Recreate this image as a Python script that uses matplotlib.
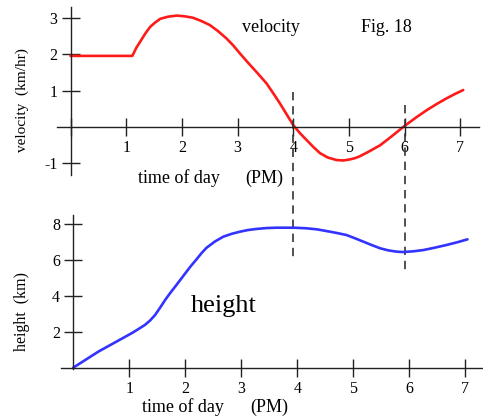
import numpy as np
import matplotlib
matplotlib.use('Agg')
import matplotlib.pyplot as plt

plt.rcParams['font.family'] = ['Liberation Serif', 'DejaVu Serif']

# velocity curve (km/hr)
t_vel = [0.0, 1.11, 1.18, 1.25, 1.34, 1.43, 1.52, 1.61, 1.75, 1.91, 2.05, 2.2, 2.35,
         2.5, 2.65, 2.8, 2.92, 3.04, 3.2, 3.36, 3.52, 3.64, 3.76, 3.88, 4.0, 4.12,
         4.24, 4.36, 4.48, 4.62, 4.78, 4.9, 5.02, 5.12, 5.2, 5.35, 5.56, 5.77, 5.98,
         6.2, 6.4, 6.58, 6.75, 6.9, 7.05]
vel = [1.96, 1.96, 2.18, 2.35, 2.57, 2.76, 2.88, 2.98, 3.04, 3.07, 3.05, 3.01, 2.92,
       2.81, 2.64, 2.44, 2.25, 2.03, 1.75, 1.48, 1.20, 0.93, 0.65, 0.35, 0.05, -0.17,
       -0.36, -0.55, -0.72, -0.84, -0.91, -0.92, -0.89, -0.85, -0.80, -0.68, -0.50,
       -0.25, 0.01, 0.26, 0.47, 0.64, 0.79, 0.91, 1.02]

# height curve (km)
t_h = [0.0, 0.45, 1.04, 1.15, 1.28, 1.37, 1.46, 1.55, 1.64, 1.73, 1.82, 1.91, 2.0,
       2.1, 2.2, 2.29, 2.38, 2.53, 2.68, 2.83, 2.98, 3.12, 3.27, 3.45, 3.63, 3.94,
       4.15, 4.35, 4.58, 4.73, 4.88, 5.03, 5.18, 5.33, 5.48, 5.63, 5.78, 5.89, 6.07,
       6.25, 6.45, 6.66, 6.85, 7.04]
height = [0.0, 0.9, 1.92, 2.13, 2.39, 2.63, 2.94, 3.35, 3.78, 4.17, 4.53, 4.9, 5.27,
          5.68, 6.05, 6.4, 6.7, 7.05, 7.32, 7.48, 7.60, 7.69, 7.75, 7.80, 7.82, 7.82,
          7.79, 7.73, 7.6, 7.51, 7.41, 7.23, 7.04, 6.85, 6.67, 6.55, 6.48, 6.46, 6.5,
          6.57, 6.7, 6.85, 7.0, 7.17]

hours = [1, 2, 3, 4, 5, 6, 7]
vel_ticks = [-1, 1, 2, 3]
h_ticks = [2, 4, 6, 8]
dash_x = [4, 6]

fig = plt.figure(figsize=(4.83, 4.17), dpi=100)
ax1 = fig.add_axes([0.1114, 0.5647, 0.888, 0.4223])
ax2 = fig.add_axes([0.117, 0.1055, 0.881, 0.3905])


def style_axes(ax):
    for s in ['top', 'right']:
        ax.spines[s].set_visible(False)
    ax.spines['left'].set_position(('data', 0))
    ax.spines['bottom'].set_position(('data', 0))
    for s in ['left', 'bottom']:
        ax.spines[s].set_linewidth(1.0)
        ax.spines[s].set_color('#222222')
    ax.tick_params(direction='inout', length=13, width=1.0, color='#222222',
                   labelsize=11.5, pad=3)
    ax.patch.set_visible(False)


# top panel: velocity
ax1.set_xlim(-0.3, 7.4)
ax1.set_ylim(-1.5, 3.35)
style_axes(ax1)
ax1.spines['bottom'].set_bounds(-0.24, 7.33)
ax1.spines['left'].set_bounds(-1.32, 3.3)
ax1.set_xticks([0] + hours)
ax1.set_xticklabels([''] + [str(h) for h in hours])
ax1.set_yticks(vel_ticks)
ax1.set_yticklabels([str(v) for v in vel_ticks])
ax1.plot(t_vel, vel, color='#ff1a1a', lw=1.9, solid_capstyle='round',
         solid_joinstyle='round')

ax1.text(3.6, 2.75, 'velocity', fontsize=13, ha='center', va='center')
ax1.text(5.67, 2.75, 'Fig. 18', fontsize=13, ha='center', va='center')
ax1.text(1.95, -1.40, 'time of day', fontsize=13, ha='center', va='center')
ax1.text(3.47, -1.40, '(PM)', fontsize=13, ha='center', va='center')

# dashed guides running from top panel into bottom panel
ax1.plot([dash_x[0], dash_x[0]], [0.96, -3.58], ls=(0, (5, 3.5)), color='#333333',
         lw=1.2, clip_on=False)
ax1.plot([dash_x[1], dash_x[1]], [0.61, -3.94], ls=(0, (5, 3.5)), color='#333333',
         lw=1.2, clip_on=False)

# bottom panel: height
ax2.set_xlim(-0.3, 7.3)
ax2.set_ylim(-0.3, 8.8)
style_axes(ax2)
ax2.spines['bottom'].set_bounds(-0.22, 7.3)
ax2.spines['left'].set_bounds(-0.1, 8.53)
ax2.set_xticks(hours)
ax2.set_xticklabels([str(h) for h in hours])
ax2.set_yticks(h_ticks)
ax2.set_yticklabels([str(h) for h in h_ticks])
ax2.plot(t_h, height, color='#3333ff', lw=1.9, solid_capstyle='round',
         solid_joinstyle='round')

ax2.text(2.69, 3.45, 'height', fontsize=19, ha='center', va='center')
ax2.text(1.96, -2.2, 'time of day', fontsize=13, ha='center', va='center')
ax2.text(3.5, -2.2, '(PM)', fontsize=13, ha='center', va='center')

fig.text(0.0455, 0.76, 'velocity  (km/hr)', rotation=90, fontsize=11,
         ha='center', va='center')
fig.text(0.0455, 0.252, 'height  (km)', rotation=90, fontsize=11.5,
         ha='center', va='center')

fig.savefig('out.png', dpi=100)
